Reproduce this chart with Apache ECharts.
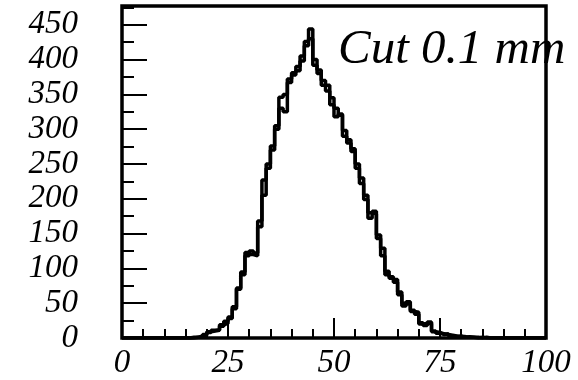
<!DOCTYPE html>
<html>
<head>
<meta charset="utf-8">
<script src="https://cdn.jsdelivr.net/npm/echarts@6/dist/echarts.min.js"></script>
<style>
html,body{margin:0;padding:0;background:#fff;}
#chart{width:578px;height:380px;}
</style>
</head>
<body>
<div id="chart"></div>
<script>
// Histogram: 100 bins of width 1 on [0,100]
const binWidth = 1;
const countsA = [
  0,0,0,0,0,0,0,0,0,0,
  0,0,0,0,0,0,1,1,3,4,
  9,10,11,19,21,28,45,70,91,123,
  120,118,168,227,244,276,300,346,350,367,
  381,384,398,426,430,392,385,363,363,335,
  330,320,290,285,272,244,230,199,180,178,
  143,129,91,88,84,62,50,48,38,37,
  20,21,21,9,8,6,5,4,3,2,
  2,1,1,1,0,1,0,0,0,0,
  0,0,0,0,0,0,0,0,0,0
];
const countsB = [
  0,0,0,0,0,0,0,0,0,0,
  0,0,0,0,0,0,0,1,2,5,
  8,11,12,17,24,30,42,72,95,118,
  125,122,160,205,250,270,305,330,325,372,
  378,390,405,420,444,400,380,370,355,345,
  318,322,298,280,268,250,222,205,172,182,
  148,118,96,86,80,66,46,52,40,34,
  22,18,23,10,7,5,6,3,2,3,
  1,2,1,0,1,0,0,0,0,0,
  0,0,0,0,0,0,0,0,0,0
];
const xTicks = [0, 25, 50, 75, 100];
const yTicks = [0, 50, 100, 150, 200, 250, 300, 350, 400, 450];
const titleText = 'Cut 0.1 mm';

function toSteps(counts) {
  const pts = counts.map((v, i) => [i * binWidth, v]);
  pts.push([counts.length * binWidth, counts[counts.length - 1]]);
  return pts;
}

const font = 'Liberation Serif';
const chart = echarts.init(document.getElementById('chart'), null, {renderer: 'canvas'});
chart.setOption({
  animation: false,
  backgroundColor: '#fff',
  title: {
    text: titleText,
    left: 333,
    top: 21,
    z: 0,
    textStyle: {fontFamily: font, fontStyle: 'italic', fontWeight: 'normal', fontSize: 49, color: '#000'}
  },
  grid: {
    left: 122, right: 32, top: 6, bottom: 33,
    show: true, borderColor: '#000', borderWidth: 3.5, backgroundColor: 'transparent', z: 10
  },
  xAxis: {
    type: 'value',
    min: xTicks[0], max: xTicks[xTicks.length - 1], interval: 25,
    axisLine: {show: false},
    splitLine: {show: false},
    axisTick: {show: true, inside: true, length: 20, lineStyle: {color: '#000', width: 2}},
    minorTick: {show: true, splitNumber: 5, length: 9, lineStyle: {color: '#000', width: 2}},
    axisLabel: {margin: 9, fontFamily: font, fontStyle: 'italic', fontSize: 33, color: '#000'}
  },
  yAxis: {
    type: 'value',
    min: 0, max: 477, interval: 50,
    axisLine: {show: false},
    splitLine: {show: false},
    axisTick: {show: true, inside: true, length: 25, lineStyle: {color: '#000', width: 2}},
    minorTick: {show: true, splitNumber: 2, length: 12, lineStyle: {color: '#000', width: 2}},
    axisLabel: {
      margin: 44, fontFamily: font, fontStyle: 'italic', fontSize: 33, color: '#000',
      showMaxLabel: false,
      formatter: v => (yTicks.indexOf(v) >= 0 ? String(v) : '')
    }
  },
  series: [
    {type: 'line', step: 'end', data: toSteps(countsA), symbol: 'none',
     lineStyle: {color: '#000', width: 3.5}, z: 3},
    {type: 'line', step: 'end', data: toSteps(countsB), symbol: 'none',
     lineStyle: {color: '#000', width: 3.5}, z: 3}
  ]
});
</script>
</body>
</html>
